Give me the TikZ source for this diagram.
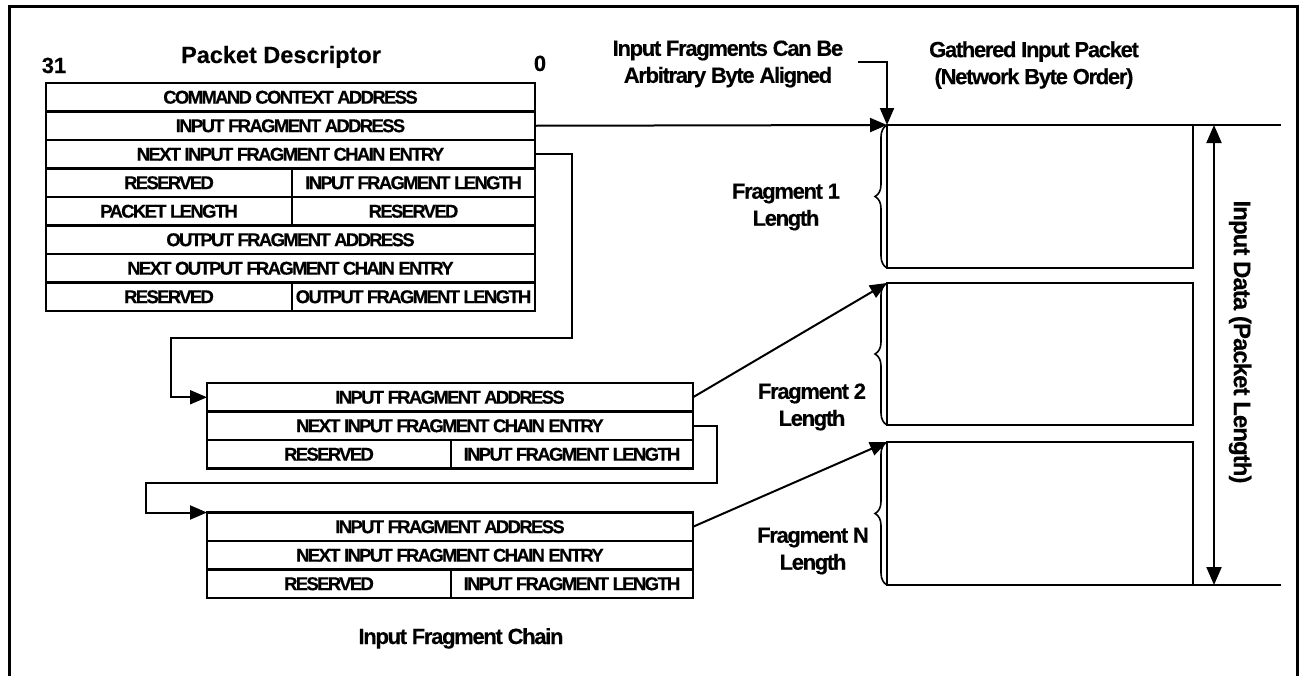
\documentclass[tikz,border=0pt]{standalone}
\usepackage{fontspec}
\setmainfont{Liberation Sans}
\newfontfamily\cellff{Liberation Sans}[LetterSpace=-9,FakeBold=0.4]
\newfontfamily\labelff{Liberation Sans}[LetterSpace=-6,FakeBold=0.3]
\newfontfamily\rotff{Liberation Sans}[LetterSpace=-4,FakeBold=0.3]
\newfontfamily\titleff{Liberation Sans}[FakeBold=0.3]
\usetikzlibrary{arrows.meta,decorations.pathreplacing}
\newcommand{\cellfnt}{\cellff\bfseries\fontsize{18.5pt}{20pt}\selectfont}
\newcommand{\lblfnt}{\labelff\bfseries\fontsize{22pt}{27pt}\selectfont}
\newcommand{\rotfnt}{\rotff\bfseries\fontsize{24pt}{28pt}\selectfont}
\newcommand{\titlefnt}{\titleff\bfseries\fontsize{23.5pt}{28pt}\selectfont}
\newcommand{\numfnt}{\titleff\bfseries\fontsize{22pt}{26pt}\selectfont}
\tikzset{
  cell/.style={draw, line width=2.5pt, minimum height=28.5pt, inner sep=0pt, outer sep=0pt, anchor=north west, font=\cellfnt},
  pkt/.style={draw, line width=2pt, inner sep=0pt, outer sep=0pt, anchor=north west},
  conn/.style={line width=2pt},
  arr/.style={line width=2pt, -{Triangle[length=17pt,width=14pt]}},
  darr/.style={line width=2pt, {Triangle[length=18pt,width=15pt]}-{Triangle[length=18pt,width=15pt]}},
  lbl/.style={font=\lblfnt, align=center, inner sep=0pt},
  brc/.style={line width=1.6pt, decorate, decoration={brace, amplitude=12pt}}
}
\begin{document}
\begin{tikzpicture}[x=1pt,y=-1pt]
\useasboundingbox (0,0) rectangle (1301,675);
\begin{scope}
\clip (0,0) rectangle (1301,675);
\draw[line width=3pt] (9,690) -- (9,6) -- (1297,6) -- (1297,690);
\end{scope}

% Packet descriptor
\node[font=\titlefnt, anchor=base, inner sep=0pt] (title) at (281,63) {Packet Descriptor};
\node[font=\numfnt, anchor=base, inner sep=0pt] (n31) at (54,73) {31};
\node[font=\numfnt, anchor=base, inner sep=0pt] (n0) at (540,71) {0};

\node[cell, minimum width=489pt] (d1) at (46,83) {COMMAND CONTEXT ADDRESS};
\node[cell, minimum width=489pt] (d2) at (46,111.5) {INPUT FRAGMENT ADDRESS};
\node[cell, minimum width=489pt] (d3) at (46,140) {NEXT INPUT FRAGMENT CHAIN ENTRY};
\node[cell, minimum width=246pt] (d4a) at (46,168.5) {RESERVED};
\node[cell, minimum width=243pt] (d4b) at (292,168.5) {INPUT FRAGMENT LENGTH};
\node[cell, minimum width=246pt] (d5a) at (46,197) {PACKET LENGTH};
\node[cell, minimum width=243pt] (d5b) at (292,197) {RESERVED};
\node[cell, minimum width=489pt] (d6) at (46,225.5) {OUTPUT FRAGMENT ADDRESS};
\node[cell, minimum width=489pt] (d7) at (46,254) {NEXT OUTPUT FRAGMENT CHAIN ENTRY};
\node[cell, minimum width=246pt] (d8a) at (46,282.5) {RESERVED};
\node[cell, minimum width=243pt] (d8b) at (292,282.5) {OUTPUT FRAGMENT LENGTH};

% Input fragment chain, entry 1
\node[cell, minimum width=486pt] (c1a) at (207,383) {INPUT FRAGMENT ADDRESS};
\node[cell, minimum width=486pt] (c1b) at (207,411.5) {NEXT INPUT FRAGMENT CHAIN ENTRY};
\node[cell, minimum width=244pt] (c1c) at (207,440) {RESERVED};
\node[cell, minimum width=242pt] (c1d) at (451,440) {INPUT FRAGMENT LENGTH};

% entry 2
\node[cell, minimum width=486pt] (c2a) at (207,512.5) {INPUT FRAGMENT ADDRESS};
\node[cell, minimum width=486pt] (c2b) at (207,541) {NEXT INPUT FRAGMENT CHAIN ENTRY};
\node[cell, minimum width=244pt] (c2c) at (207,569.5) {RESERVED};
\node[cell, minimum width=242pt] (c2d) at (451,569.5) {INPUT FRAGMENT LENGTH};

\node[lbl, anchor=base] (chain) at (461,644) {Input Fragment Chain};

% Gathered packet
\node[pkt, minimum width=306pt, minimum height=143pt] (p1) at (887,125) {};
\node[pkt, minimum width=306pt, minimum height=142pt] (p2) at (887,283) {};
\node[pkt, minimum width=306pt, minimum height=143pt] (p3) at (887,442) {};

\coordinate (t1) at (1281,125);
\coordinate (t2) at (1281,585);
\draw[conn] (p1.north east) -- (t1);
\draw[conn] (p3.south east) -- (t2);
\coordinate (da) at (1214,125);
\coordinate (db) at (1214,585);
\draw[darr] (da) -- (db);
\node[font=\rotfnt, rotate=-90, inner sep=0pt] (idata) at (1240,342) {Input Data (Packet Length)};

\node[lbl] (gath) at (1034,65) {Gathered Input Packet\\(Network Byte Order)};
\node[lbl] (arb) at (728,64) {Input Fragments Can Be\\Arbitrary Byte Aligned};
\coordinate (h1) at (858,62);
\draw[arr] (h1) -| (p1.north west);

% braces
\draw[brc] (p1.south west) -- (p1.north west);
\draw[brc] (p2.south west) -- (p2.north west);
\draw[brc] (p3.south west) -- (p3.north west);

\node[lbl] (f1) at (786,207) {Fragment 1\\Length};
\node[lbl] (f2) at (812,407) {Fragment 2\\Length};
\node[lbl] (fn) at (813,551) {Fragment N\\Length};

% connectors
\draw[arr] (d2.east) -- (p1.north west);
\coordinate (k1) at (572,338);
\coordinate (k2) at (171,338);
\draw[arr] (d3.east) -| (k1) -- (k2) |- (c1a.west);
\draw[arr] (c1a.east) -- (p2.north west);
\coordinate (k3) at (717,483);
\coordinate (k4) at (146,483);
\draw[arr] (c1b.east) -| (k3) -- (k4) |- (c2a.north west);
\draw[arr] (c2a.east) -- (p3.north west);
\end{tikzpicture}
\end{document}
